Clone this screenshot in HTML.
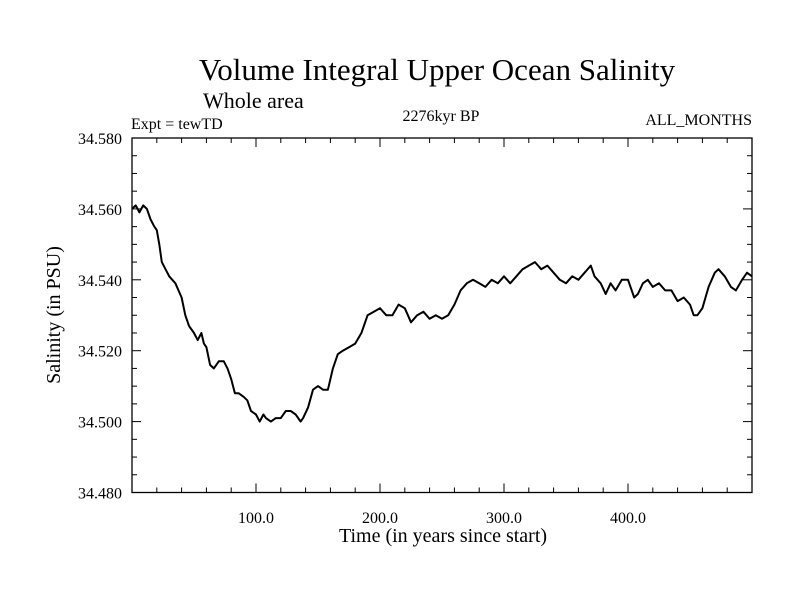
<!DOCTYPE html>
<html><head><meta charset="utf-8"><style>
html,body{margin:0;padding:0;background:#fff;}
svg text{font-family:"Liberation Serif",serif;fill:#000;}
</style></head><body>
<svg id="chart" width="800" height="600" viewBox="0 0 800 600">
<text x="437" y="80" font-size="31" text-anchor="middle">Volume Integral Upper Ocean Salinity</text>
<text x="203" y="108" font-size="22">Whole area</text>
<text x="131" y="129" font-size="16">Expt = tewTD</text>
<text x="441" y="121" font-size="16" text-anchor="middle">2276kyr BP</text>
<text x="752" y="125" font-size="16" text-anchor="end">ALL_MONTHS</text>
<text x="443" y="542" font-size="20" text-anchor="middle">Time (in years since start)</text>
<text transform="translate(60,315) rotate(-90)" font-size="20" text-anchor="middle">Salinity (in PSU)</text>
<g id="axes"></g>
<path id="line" fill="none" stroke="#000" stroke-width="2" stroke-linejoin="round"></path>
</svg>
<script>
const years=[0,3,6,9,12,15,18,20,22,24,27,30,35,40,43,46,50,53,56,58,60,63,66,70,74,77,80,83,86,90,93,96,100,103,106,108,112,116,120,124,128,132,136,138,142,146,150,154,158,162,166,170,175,180,185,190,195,200,205,210,215,220,225,230,235,240,245,250,255,260,265,270,275,280,285,290,295,300,305,310,315,320,325,330,335,340,345,350,355,360,365,370,373,378,382,386,390,395,400,405,408,412,416,420,425,430,435,440,445,450,453,456,460,465,470,473,478,483,487,492,496,500];
const salinity=[34.560,34.561,34.559,34.561,34.560,34.557,34.555,34.554,34.550,34.545,34.543,34.541,34.539,34.535,34.530,34.527,34.525,34.523,34.525,34.522,34.521,34.516,34.515,34.517,34.517,34.515,34.512,34.508,34.508,34.507,34.506,34.503,34.502,34.500,34.502,34.501,34.500,34.501,34.501,34.503,34.503,34.502,34.500,34.501,34.504,34.509,34.510,34.509,34.509,34.515,34.519,34.520,34.521,34.522,34.525,34.530,34.531,34.532,34.530,34.530,34.533,34.532,34.528,34.530,34.531,34.529,34.530,34.529,34.530,34.533,34.537,34.539,34.540,34.539,34.538,34.540,34.539,34.541,34.539,34.541,34.543,34.544,34.545,34.543,34.544,34.542,34.540,34.539,34.541,34.540,34.542,34.544,34.541,34.539,34.536,34.539,34.537,34.540,34.540,34.535,34.536,34.539,34.540,34.538,34.539,34.537,34.537,34.534,34.535,34.533,34.530,34.530,34.532,34.538,34.542,34.543,34.541,34.538,34.537,34.540,34.542,34.541];
const xTicks=[100,200,300,400];
const xTickLabels=["100.0","200.0","300.0","400.0"];
const yTicks=[34.48,34.50,34.52,34.54,34.56,34.58];
const yTickLabels=["34.480","34.500","34.520","34.540","34.560","34.580"];
const L=132,R=752,T=138,B=492.5,x0=0,x1=500,y0=34.48,y1=34.58;
const sx=v=>L+(v-x0)/(x1-x0)*(R-L);
const sy=v=>B-(v-y0)/(y1-y0)*(B-T);
const NS="http://www.w3.org/2000/svg";
const ax=document.getElementById('axes');
function ln(a,b,c,d,name){const e=document.createElementNS(NS,'line');e.setAttribute('x1',a);e.setAttribute('y1',b);e.setAttribute('x2',c);e.setAttribute('y2',d);e.setAttribute('stroke','#000');e.setAttribute('stroke-width','1');


ax.appendChild(e);}
function tx(x,y,s,anchor,name){const e=document.createElementNS(NS,'text');e.setAttribute('x',x);e.setAttribute('y',y);e.setAttribute('font-size','16');e.setAttribute('text-anchor',anchor);e.textContent=s;


ax.appendChild(e);}
const fr=document.createElementNS(NS,'rect');fr.setAttribute('x',L);fr.setAttribute('y',T);fr.setAttribute('width',R-L);fr.setAttribute('height',B-T);fr.setAttribute('fill','none');fr.setAttribute('stroke','#000');fr.setAttribute('stroke-width','1.3');


ax.appendChild(fr);
for(let v=20;v<500;v+=20){const major=v%100===0;const len=major?9:5;const x=sx(v);ln(x,B,x,B-len,'x-tick');ln(x,T,x,T+len,'x-tick-top');}
for(let i=0;i<=20;i++){const v=y0+i*0.005;const major=i%4===0;const len=major?9:5;const y=sy(v);ln(L,y,L+len,y,'y-tick');ln(R,y,R-len,y,'y-tick-right');}
xTicks.forEach((v,i)=>tx(sx(v),523,xTickLabels[i],'middle','x-tick-label'));
yTicks.forEach((v,i)=>tx(122,sy(v)+6,yTickLabels[i],'end','y-tick-label'));
let d='';years.forEach((t,i)=>{d+=(i?'L':'M')+sx(t).toFixed(1)+','+sy(salinity[i]).toFixed(1);});
document.getElementById('line').setAttribute('d',d);
</script>
</body></html>
